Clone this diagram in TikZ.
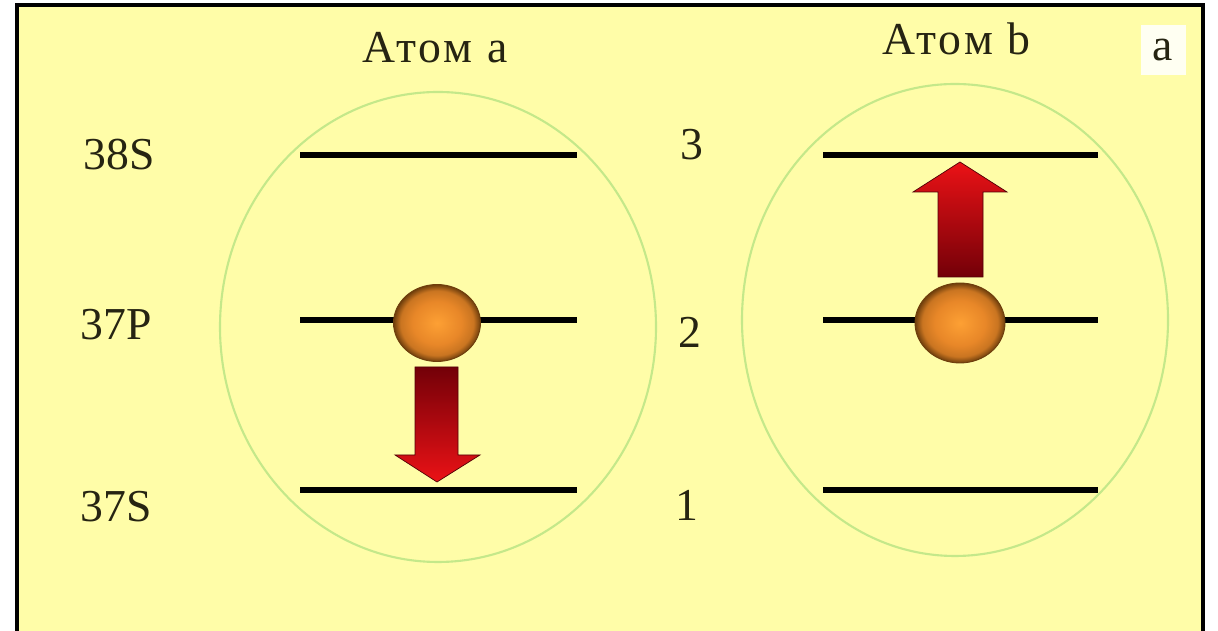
\documentclass[tikz,border=0pt]{standalone}
\usepackage{fontspec}
\setmainfont{Liberation Serif}
\definecolor{paper}{RGB}{255,253,168}
\definecolor{ringgreen}{RGB}{196,232,138}
\definecolor{inkdark}{RGB}{38,36,18}
\definecolor{ballin}{RGB}{253,160,52}
\definecolor{ballmid}{RGB}{232,135,40}
\definecolor{ballout}{RGB}{110,62,12}
\definecolor{arrdark}{RGB}{115,0,8}
\definecolor{arrred}{RGB}{235,18,22}
\pgfdeclareradialshading{ballshade}{\pgfpoint{0bp}{0bp}}{color(0bp)=(ballin); color(14bp)=(ballmid); color(21bp)=(ballmid!75!ballout); color(25bp)=(ballout); color(50bp)=(ballout)}
\tikzset{
  lbl/.style={text=inkdark, font=\fontsize{26}{30}\selectfont, inner sep=0pt},
  title/.style={lbl, font=\fontsize{26}{30}\selectfont\addfontfeature{LetterSpace=7}},
  level/.style={black, line width=2.9pt},
  ring/.style={ringgreen, line width=1.2pt},
  ball/.style={draw=ballout, line width=0.5pt, shading=ballshade},
}
\begin{document}
\begin{tikzpicture}
    \useasboundingbox (0,0) rectangle (24.36,12.62);
    % frame and background
    \fill[white] (0,0) rectangle (24.36,12.62);
    \fill[paper] (0.34,-0.2) rectangle (24.06,12.52);
    \draw[black, line width=2.2pt] (0.34,-0.2) -- (0.34,12.52) -- (24.06,12.52) -- (24.06,-0.2);

    % the two atoms
    \draw[ring] (8.76,6.08) ellipse (4.36cm and 4.70cm);
    \draw[ring] (19.10,6.22) ellipse (4.26cm and 4.72cm);
    \node[title] (atomA) at (8.70,11.67) {Атом a};
    \node[title] (atomB) at (19.13,11.84) {Атом b};

    % corner mark
    \node[lbl, fill=white!85!paper, minimum width=0.9cm, minimum height=1.0cm] (mark) at (23.26,11.62) {a};

    % level names
    \node[lbl] (s38) at (2.38,9.52) {38S};
    \node[lbl] (p37) at (2.32,6.12) {37P};
    \node[lbl] (s37) at (2.32,2.48) {37S};

    % level numbers
    \node[lbl] (n3) at (13.84,9.72) {3};
    \node[lbl] (n2) at (13.80,5.98) {2};
    \node[lbl] (n1) at (13.74,2.52) {1};

    % levels, atom a
    \draw[level] (6.00,9.52) -- (11.54,9.52);
    \draw[level] (6.00,6.22) -- (11.54,6.22);
    \draw[level] (6.00,2.82) -- (11.54,2.82);
    % levels, atom b
    \draw[level] (16.46,9.52) -- (21.96,9.52);
    \draw[level] (16.46,6.22) -- (21.96,6.22);
    \draw[level] (16.46,2.82) -- (21.96,2.82);

    % atom a: decay 2 -> 1
    \path[ball] (8.74,6.16) ellipse (0.87cm and 0.77cm);
    \shade[top color=arrdark, bottom color=arrred, draw=arrdark!70!black, line width=0.4pt]
        (8.30,5.28) -- (9.16,5.28) -- (9.16,3.52) -- (9.60,3.52) -- (8.74,2.98)
        -- (7.90,3.52) -- (8.30,3.52) -- cycle;

    % atom b: excitation 2 -> 3
    \path[ball] (19.20,6.16) ellipse (0.90cm and 0.80cm);
    \shade[top color=arrred, bottom color=arrdark, draw=arrdark!70!black, line width=0.4pt]
        (18.76,7.08) -- (19.66,7.08) -- (19.66,8.78) -- (20.14,8.78) -- (19.20,9.38)
        -- (18.26,8.78) -- (18.76,8.78) -- cycle;

\end{tikzpicture}
\end{document}
